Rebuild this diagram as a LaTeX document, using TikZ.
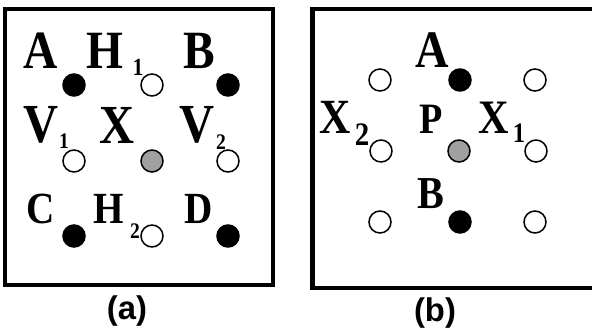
\documentclass[tikz,border=0pt]{standalone}
\usepackage{fontspec}
\setmainfont{Liberation Serif}
\newfontfamily\capfont{Liberation Sans}
\usetikzlibrary{positioning}
\newcommand\fsz[1]{\fontsize{#1}{#1}\selectfont}
\definecolor{midgrey}{HTML}{A0A0A0}

\begin{document}
\begin{tikzpicture}[
    x=0.3mm,y=-0.3mm,
    lab/.style={inner sep=0pt,anchor=base,font=\bfseries,xscale=0.88,transform shape},
    pt/.style={circle,draw,line width=1.3pt,inner sep=0pt,minimum size=6.6mm},
    fulldot/.style={pt,fill=black},
    greydot/.style={pt,fill=midgrey},
    opendot/.style={pt,fill=white},
    boxline/.style={draw,line width=#1},
    captext/.style={inner sep=0pt,font=\capfont\bfseries\fsz{28}},
  ]
    \useasboundingbox (0,0) rectangle (592,329);
    \clip (0,0) rectangle (592,329);
    % panel (a)
    \draw[boxline=3pt] (5,9) rectangle (273,285);
    \node[fulldot] (pA)  at (74,85)  {};
    \node[opendot] (pH1) at (152,85) {};
    \node[fulldot] (pB)  at (228,85) {};
    \node[opendot] (pV1) at (74,161) {};
    \node[greydot] (pX)  at (152,161) {};
    \node[opendot] (pV2) at (228,161) {};
    \node[fulldot] (pC)  at (74,236) {};
    \node[opendot] (pH2) at (152,236) {};
    \node[fulldot] (pD)  at (228,236) {};
    \node[lab,font=\bfseries\fsz{46}] (A)  at (41,68)   {A};
    \node[lab,font=\bfseries\fsz{46}] (H1) at (105,68)  {H};
    \node[lab,font=\bfseries\fsz{21}] (s1) at (138,75)  {1};
    \node[lab,font=\bfseries\fsz{46}] (B)  at (199,68)  {B};
    \node[lab,font=\bfseries\fsz{47}] (V1) at (41,142)  {V};
    \node[lab,font=\bfseries\fsz{19}] (s2) at (64,148)  {1};
    \node[lab,font=\bfseries\fsz{47}] (X)  at (117,143) {X};
    \node[lab,font=\bfseries\fsz{47}] (V2) at (197,142) {V};
    \node[lab,font=\bfseries\fsz{19}] (s3) at (221,149) {2};
    \node[lab,font=\bfseries\fsz{38}] (C)  at (41,223)  {C};
    \node[lab,font=\bfseries\fsz{38}] (H2) at (109,223) {H};
    \node[lab,font=\bfseries\fsz{19}] (s4) at (135,238) {2};
    \node[lab,font=\bfseries\fsz{38}] (D)  at (199,223) {D};
    \node[captext] (capa) at (127,311) {(a)};
    % panel (b)
    \draw[boxline=4pt] (312.5,9) rectangle (600,288);
    \node[opendot] (q1) at (380,80)  {};
    \node[fulldot] (qA) at (460,80)  {};
    \node[opendot] (q2) at (535,80)  {};
    \node[opendot] (qX2) at (381,151) {};
    \node[greydot] (qP) at (459,151) {};
    \node[opendot] (qX1) at (536,151) {};
    \node[opendot] (q3) at (380,222) {};
    \node[fulldot] (qB) at (460,222) {};
    \node[opendot] (q4) at (535,222) {};
    \node[lab,font=\bfseries\fsz{45}] (bA)  at (432,67)  {A};
    \node[lab,font=\bfseries\fsz{42}] (bX2) at (335,133) {X};
    \node[lab,font=\bfseries\fsz{28}] (t2)  at (362,145) {2};
    \node[lab,font=\bfseries\fsz{37}] (bP)  at (431,133) {P};
    \node[lab,font=\bfseries\fsz{41}] (bX1) at (494,133) {X};
    \node[lab,font=\bfseries\fsz{24}] (t1)  at (519,142) {1};
    \node[lab,font=\bfseries\fsz{39}] (bB)  at (431,208) {B};
    \node[captext] (capb) at (435,313) {(b)};
  \end{tikzpicture}
\end{document}
